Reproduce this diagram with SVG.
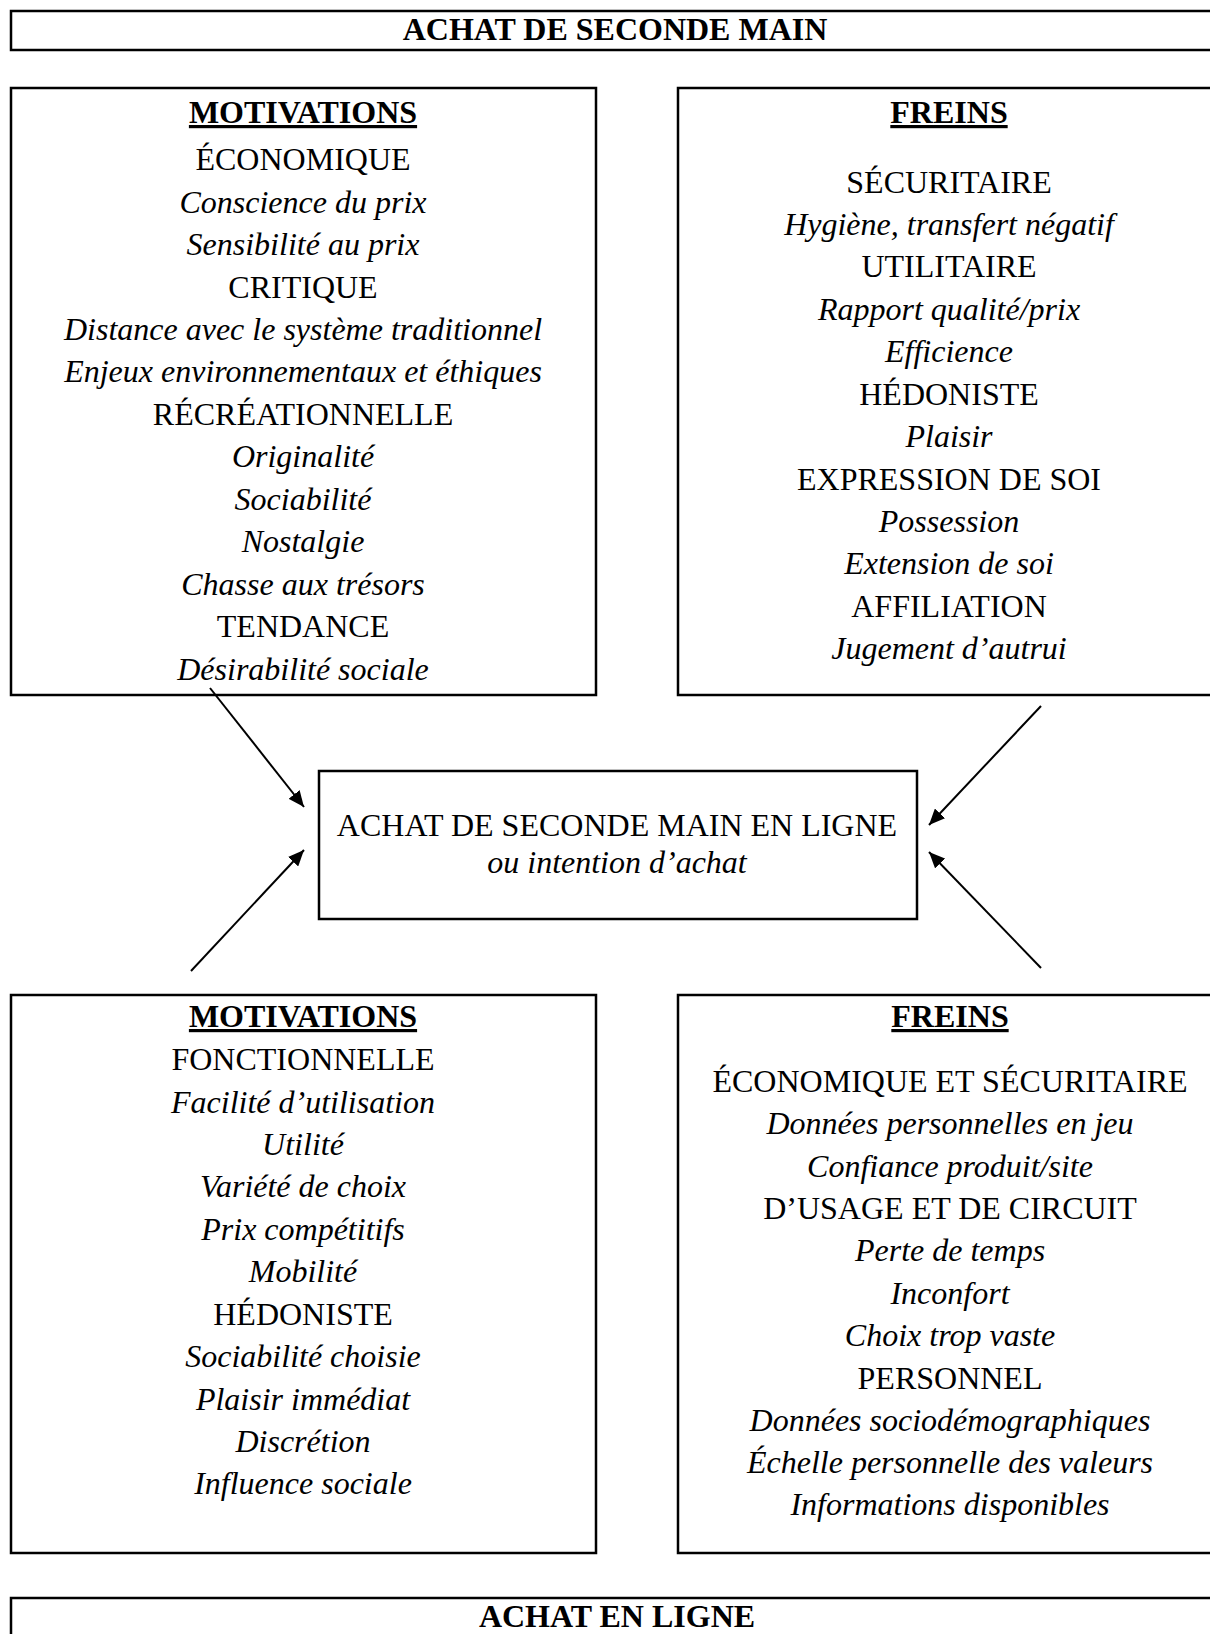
<svg xmlns="http://www.w3.org/2000/svg" width="1210" height="1634" viewBox="0 0 1210 1634">
<style>
text{font-family:"Liberation Serif","Times New Roman",serif;font-size:32px;fill:#000;text-anchor:middle}
.t{font-weight:bold}
.h{font-weight:bold;text-decoration:underline}
.i{font-style:italic}
rect{fill:#fff;stroke:#000;stroke-width:2.5}
.cn line{stroke:#000;stroke-width:2}
</style>
<defs>
<marker id="ah" markerUnits="userSpaceOnUse" markerWidth="17" markerHeight="14" refX="16" refY="7" orient="auto">
<path d="M0,0 L16,7 L0,14 z" fill="#000"/>
</marker>
</defs>
<rect width="1210" height="1634" style="stroke:none"/>
<g id="title-top">
<rect x="11" y="11" width="1260" height="39"/>
<text class="t" x="615" y="40">ACHAT DE SECONDE MAIN</text>
</g>
<g id="motivations-top">
<rect x="11" y="88" width="585" height="607"/>
<text class="h" x="303" y="123">MOTIVATIONS</text>
<text x="303" y="170">ÉCONOMIQUE</text>
<text class="i" x="303" y="213">Conscience du prix</text>
<text class="i" x="303" y="255">Sensibilité au prix</text>
<text x="303" y="298">CRITIQUE</text>
<text class="i" x="303" y="340">Distance avec le système traditionnel</text>
<text class="i" x="303" y="382">Enjeux environnementaux et éthiques</text>
<text x="303" y="425">RÉCRÉATIONNELLE</text>
<text class="i" x="303" y="467">Originalité</text>
<text class="i" x="303" y="510">Sociabilité</text>
<text class="i" x="303" y="552">Nostalgie</text>
<text class="i" x="303" y="595">Chasse aux trésors</text>
<text x="303" y="637">TENDANCE</text>
<text class="i" x="303" y="680">Désirabilité sociale</text>
</g>
<g id="freins-top">
<rect x="678" y="88" width="600" height="607"/>
<text class="h" x="949" y="123">FREINS</text>
<text x="949" y="193">SÉCURITAIRE</text>
<text class="i" x="949" y="235">Hygiène, transfert négatif</text>
<text x="949" y="277">UTILITAIRE</text>
<text class="i" x="949" y="320">Rapport qualité/prix</text>
<text class="i" x="949" y="362">Efficience</text>
<text x="949" y="405">HÉDONISTE</text>
<text class="i" x="949" y="447">Plaisir</text>
<text x="949" y="490">EXPRESSION DE SOI</text>
<text class="i" x="949" y="532">Possession</text>
<text class="i" x="949" y="574">Extension de soi</text>
<text x="949" y="617">AFFILIATION</text>
<text class="i" x="949" y="659">Jugement d’autrui</text>
</g>
<g id="center">
<rect x="319" y="771" width="598" height="148"/>
<text x="617" y="836">ACHAT DE SECONDE MAIN EN LIGNE</text>
<text class="i" x="617" y="873">ou intention d’achat</text>
</g>
<g id="motivations-bottom">
<rect x="11" y="995" width="585" height="558"/>
<text class="h" x="303" y="1027">MOTIVATIONS</text>
<text x="303" y="1070">FONCTIONNELLE</text>
<text class="i" x="303" y="1113">Facilité d’utilisation</text>
<text class="i" x="303" y="1155">Utilité</text>
<text class="i" x="303" y="1197">Variété de choix</text>
<text class="i" x="303" y="1240">Prix compétitifs</text>
<text class="i" x="303" y="1282">Mobilité</text>
<text x="303" y="1325">HÉDONISTE</text>
<text class="i" x="303" y="1367">Sociabilité choisie</text>
<text class="i" x="303" y="1410">Plaisir immédiat</text>
<text class="i" x="303" y="1452">Discrétion</text>
<text class="i" x="303" y="1494">Influence sociale</text>
</g>
<g id="freins-bottom">
<rect x="678" y="995" width="600" height="558"/>
<text class="h" x="950" y="1027">FREINS</text>
<text x="950" y="1092">ÉCONOMIQUE ET SÉCURITAIRE</text>
<text class="i" x="950" y="1134">Données personnelles en jeu</text>
<text class="i" x="950" y="1177">Confiance produit/site</text>
<text x="950" y="1219">D’USAGE ET DE CIRCUIT</text>
<text class="i" x="950" y="1261">Perte de temps</text>
<text class="i" x="950" y="1304">Inconfort</text>
<text class="i" x="950" y="1346">Choix trop vaste</text>
<text x="950" y="1389">PERSONNEL</text>
<text class="i" x="950" y="1431">Données sociodémographiques</text>
<text class="i" x="950" y="1473">Échelle personnelle des valeurs</text>
<text class="i" x="950" y="1515">Informations disponibles</text>
</g>
<g id="title-bottom">
<rect x="11" y="1598" width="1260" height="100"/>
<text class="t" x="617" y="1627">ACHAT EN LIGNE</text>
</g>
<g id="connectors" class="cn">
<line x1="210" y1="688" x2="304" y2="807" marker-end="url(#ah)"/>
<line x1="1041" y1="706" x2="929" y2="825" marker-end="url(#ah)"/>
<line x1="191" y1="971" x2="304" y2="850" marker-end="url(#ah)"/>
<line x1="1041" y1="968" x2="929" y2="852" marker-end="url(#ah)"/>
</g>
</svg>
